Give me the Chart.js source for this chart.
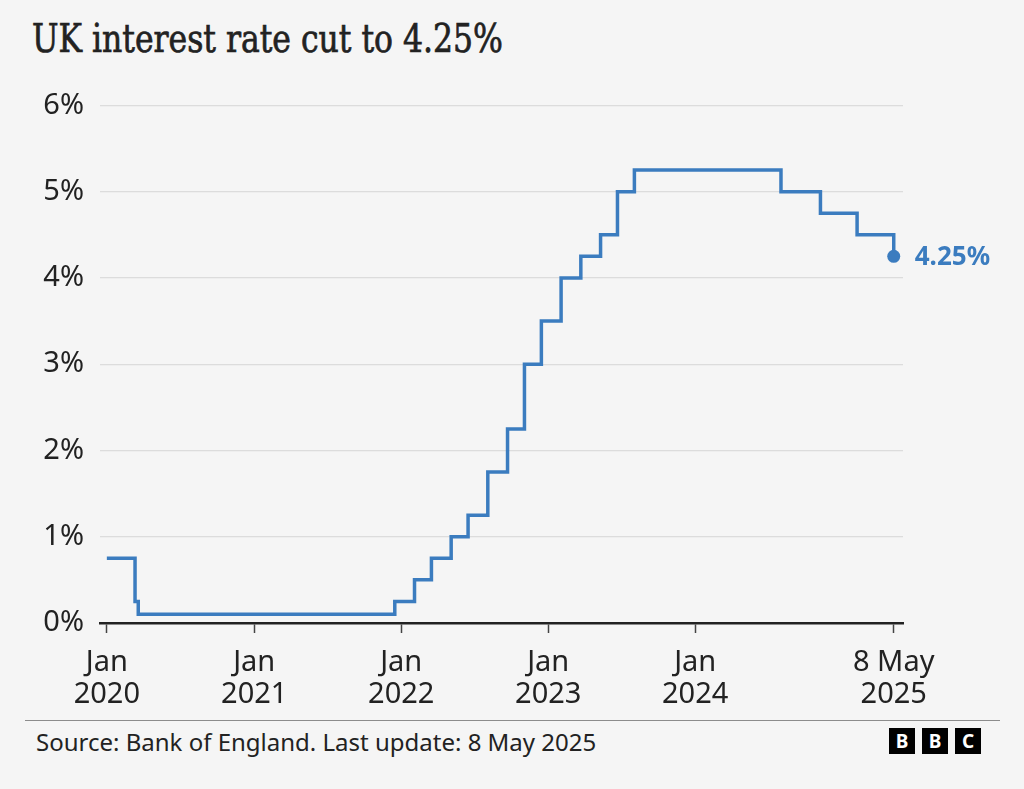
<!DOCTYPE html>
<html>
<head>
<meta charset="utf-8">
<script src="https://cdn.jsdelivr.net/npm/chart.js@4.4.0/dist/chart.umd.min.js"></script>
<style>
  body { margin: 0; background: #f5f5f5; width: 1024px; height: 789px; overflow: hidden; position: relative; font-family: "Noto Sans", sans-serif; }
  #title { position: absolute; left: 32px; top: 15px; font-family: "DejaVu Serif Condensed", "DejaVu Serif", serif; font-size: 40px; font-weight: normal; -webkit-text-stroke: 0.7px #222; color: #222; white-space: nowrap; transform-origin: 0 0; }
  #chartBox { position: absolute; left: 0; top: 72px; width: 1024px; height: 648px; }
  #rule { position: absolute; left: 25px; top: 720px; width: 975px; height: 0; border-top: 1.5px solid #8c8c8c; }
  #source { position: absolute; left: 36px; top: 725px; font-size: 24px; color: #222; }
  #bbc { position: absolute; left: 889px; top: 728px; display: flex; gap: 7px; }
  #bbc span { width: 26px; height: 26px; background: #000; color: #fff; font-weight: bold; font-size: 19px; line-height: 26px; text-align: center; }
</style>
</head>
<body>
<div id="title">UK interest rate cut to 4.25%</div>
<div id="chartBox"><canvas id="rateChart"></canvas></div>
<div id="rule"></div>
<div id="source">Source: Bank of England. Last update: 8 May 2025</div>
<div id="bbc"><span>B</span><span>B</span><span>C</span></div>
<script>
// Bank Rate changes (date, new rate %)
const changeDates = [
  '2020-01-01', '2020-03-11', '2020-03-19', '2021-12-16', '2022-02-03',
  '2022-03-17', '2022-05-05', '2022-06-16', '2022-08-04', '2022-09-22',
  '2022-11-03', '2022-12-15', '2023-02-02', '2023-03-23', '2023-05-11',
  '2023-06-22', '2023-08-03', '2024-08-01', '2024-11-07', '2025-02-06',
  '2025-05-08'
];
const rates = [
  0.75, 0.25, 0.1, 0.25, 0.5,
  0.75, 1.0, 1.25, 1.75, 2.25,
  3.0, 3.5, 4.0, 4.25, 4.5,
  5.0, 5.25, 5.0, 4.75, 4.5,
  4.25
];
const tickDates = ['2020-01-01', '2021-01-01', '2022-01-01', '2023-01-01', '2024-01-01', '2025-05-08'];
const tickLabels = [['Jan', '2020'], ['Jan', '2021'], ['Jan', '2022'], ['Jan', '2023'], ['Jan', '2024'], ['8 May', '2025']];
const yTicks = [0, 1, 2, 3, 4, 5, 6];

const DAY = 86400000;
const toMs = s => Date.parse(s + 'T00:00:00Z');
const tickValues = tickDates.map(toMs);
const lineColor = '#3b7cbf';

// squeeze the title to the reference width
const title = document.getElementById('title');
title.style.transform = 'scaleX(' + (471 / title.offsetWidth) + ')';

const points = changeDates.map((d, i) => ({ x: toMs(d), y: rates[i] }));
const lastIndex = points.length - 1;

const endLabel = {
  id: 'endLabel',
  afterDatasetsDraw(chart) {
    const p = chart.getDatasetMeta(0).data[lastIndex];
    const ctx = chart.ctx;
    ctx.save();
    ctx.font = 'bold 26px "Noto Sans"';
    ctx.fillStyle = lineColor;
    ctx.textBaseline = 'middle';
    ctx.fillText(rates[lastIndex].toFixed(2) + '%', p.x + 21, p.y + 1);
    ctx.restore();
  }
};

new Chart(document.getElementById('rateChart'), {
  type: 'line',
  data: {
    datasets: [{
      data: points,
      stepped: 'before',
      borderColor: lineColor,
      borderWidth: 3.5,
      borderJoinStyle: 'miter',
      pointRadius: ctx => ctx.dataIndex === lastIndex ? 6.5 : 0,
      pointBackgroundColor: lineColor,
      pointBorderWidth: 0,
      fill: false
    }]
  },
  options: {
    responsive: true,
    maintainAspectRatio: false,
    animation: false,
    layout: { padding: { top: 11, right: 121, left: 0, bottom: 0 } },
    plugins: { legend: { display: false }, tooltip: { enabled: false } },
    scales: {
      x: {
        type: 'linear',
        min: toMs('2020-01-01') - 17 * DAY,
        max: toMs('2025-05-08') + 23 * DAY,
        afterBuildTicks: scale => { scale.ticks = tickValues.map(v => ({ value: v })); },
        afterFit: scale => { scale.height = 97; },
        ticks: {
          autoSkip: false,
          maxRotation: 0,
          padding: 13,
          color: '#222',
          font: { family: 'Noto Sans', size: 29, lineHeight: 1.12 },
          callback: v => tickLabels[tickValues.indexOf(v)]
        },
        grid: { drawOnChartArea: false, drawTicks: true, tickLength: 10, tickColor: '#444', tickWidth: 1.5 },
        border: { display: true, color: '#222', width: 2.5 }
      },
      y: {
        min: 0,
        max: 6,
        afterBuildTicks: scale => { scale.ticks = yTicks.map(v => ({ value: v })); },
        afterFit: scale => { scale.width = 100; },
        ticks: {
          padding: 16,
          color: '#222',
          font: { family: 'Noto Sans', size: 29 },
          callback: v => v + '%'
        },
        grid: { color: '#dcdcdc', lineWidth: 1.2, drawTicks: false },
        border: { display: false }
      }
    }
  },
  plugins: [endLabel]
});
</script>
</body>
</html>
